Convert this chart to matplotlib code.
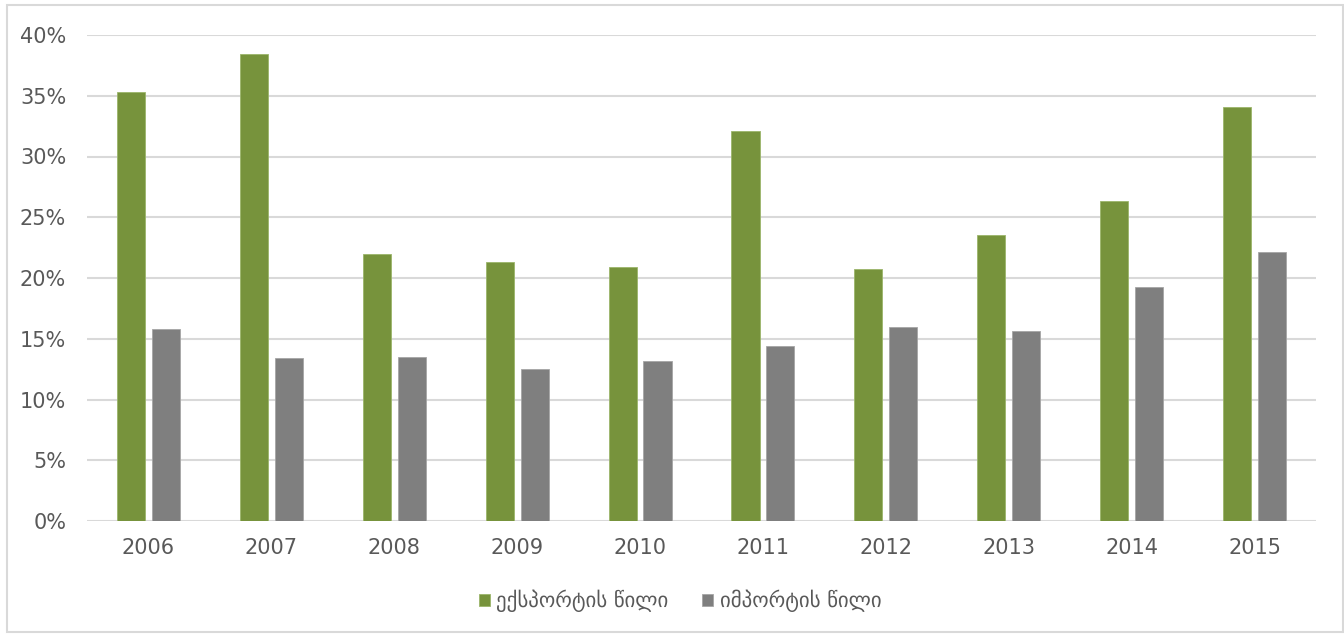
import matplotlib
matplotlib.use("Agg")
import matplotlib.pyplot as plt
from matplotlib.patches import Rectangle
import numpy as np

years = ["2006", "2007", "2008", "2009", "2010", "2011", "2012", "2013", "2014", "2015"]
export_share = [35.3, 38.4, 22.0, 21.3, 20.9, 32.1, 20.7, 23.5, 26.3, 34.1]
import_share = [15.8, 13.4, 13.5, 12.5, 13.2, 14.4, 16.0, 15.6, 19.3, 22.1]
series_labels = ["ექსპორტის წილი", "იმპორტის წილი"]
yticks = [0, 5, 10, 15, 20, 25, 30, 35, 40]

plt.rcParams['font.family'] = ['DejaVu Sans']

W, H = 1344, 634
fig = plt.figure(figsize=(W / 100, H / 100), dpi=100)
ax = fig.add_axes([87 / W, (H - 521) / H, (1316 - 87) / W, (521 - 35) / H])

x = np.arange(len(years))
off = 0.142
w = 0.228
ax.bar(x - off, export_share, width=w, color="#77933C", edgecolor="#9BB56A", linewidth=0.6,
       label=series_labels[0], zorder=3)
ax.bar(x + off, import_share, width=w, color="#7F7F7F", edgecolor="#A6A6A6", linewidth=0.6,
       label=series_labels[1], zorder=3)

ax.set_xlim(-0.5, len(years) - 0.5)
ax.set_ylim(0, 40)
ax.set_yticks(yticks)
ax.set_yticklabels([f"{v}%" for v in yticks])
ax.set_xticks(x)
ax.set_xticklabels(years)
for lbl in ax.get_xticklabels() + ax.get_yticklabels():
    lbl.set_fontfamily(['DejaVu Sans Condensed', 'DejaVu Sans'])
ax.grid(axis='y', color="#D9D9D9", linewidth=1.5, zorder=0)
for s in ax.spines.values():
    s.set_visible(False)
ax.tick_params(axis='both', length=0, labelsize=15, labelcolor="#595959")
ax.tick_params(axis='y', pad=15)
ax.tick_params(axis='x', pad=12)

leg = fig.legend(loc='center', bbox_to_anchor=(680 / W, (H - 601) / H), ncol=2, frameon=False,
                 fontsize=15, handlelength=0.55, handleheight=0.55, handletextpad=0.3,
                 columnspacing=1.6)
for t in leg.get_texts():
    t.set_color("#595959")

fig.patches.append(Rectangle((7 / W, 2 / H), (W - 8) / W, (H - 7) / H, transform=fig.transFigure,
                             fill=False, edgecolor="#D9D9D9", linewidth=1.5))

fig.savefig("out.png", dpi=100)
